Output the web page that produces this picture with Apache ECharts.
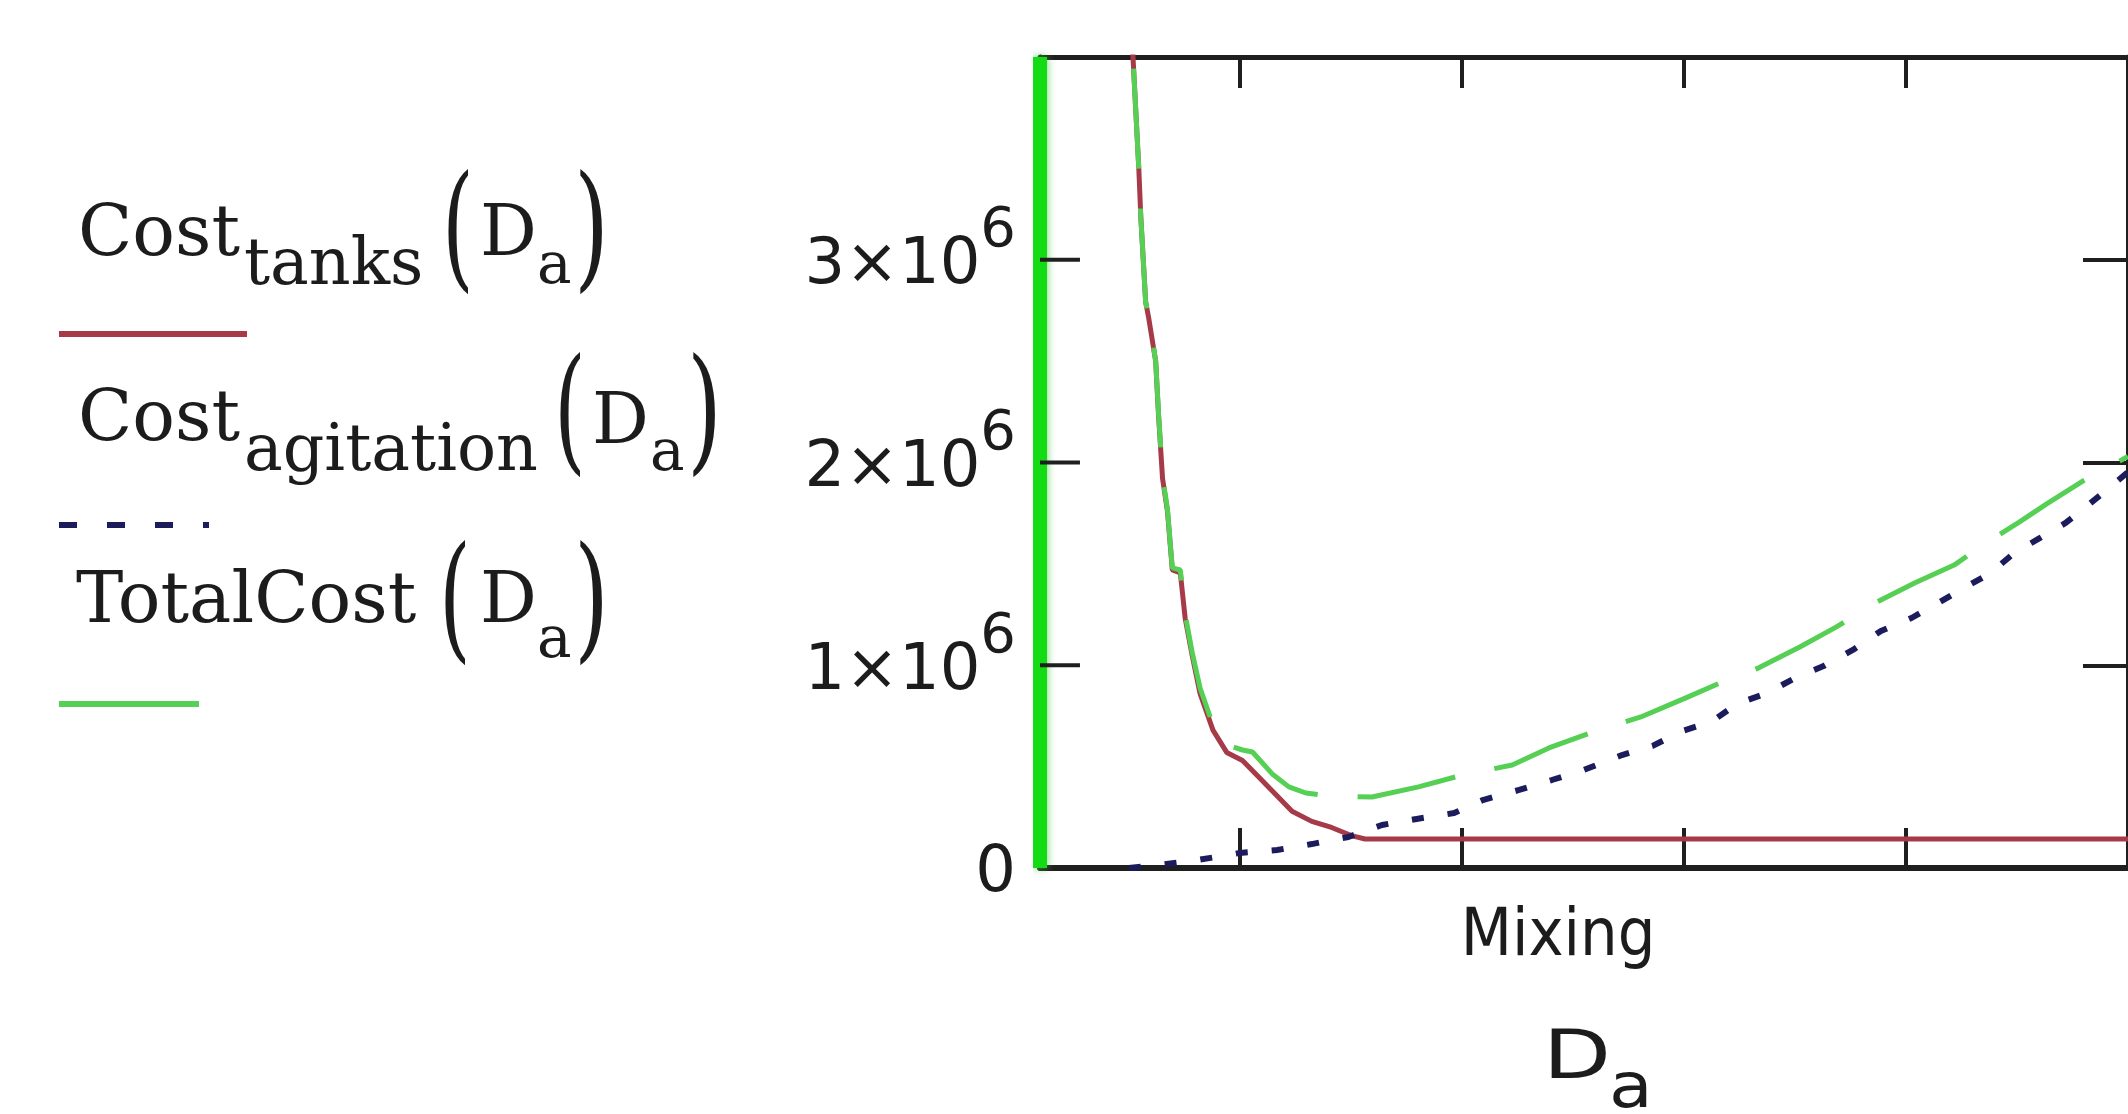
<!DOCTYPE html>
<html>
<head lang="en">
    <meta charset="UTF-8">
    <title>Mixing cost</title>
    <style>
        html, body {margin: 0; padding: 0; background: #fff;}
        #main {width: 2128px; height: 1114px;}
    </style>
</head>
<body>
<div id="main"></div>
<script src="https://cdn.jsdelivr.net/npm/echarts@6.0.0/dist/echarts.min.js"></script>
<script type="text/javascript">
    // values (D_a, cost)
    var tanksX = [0.514, 0.545, 0.554, 0.576, 0.590, 0.621, 0.634, 0.652, 0.674, 0.696, 0.732, 0.754, 0.785, 0.821, 0.879, 0.941, 1.012, 1.075, 1.164, 1.235, 1.324, 1.413, 1.502, 1.564, 5.0];
    var tanksY = [4.10e6, 3.45e6, 3.21e6, 2.79e6, 2.71e6, 2.50e6, 2.23e6, 1.92e6, 1.76e6, 1.47e6, 1.455e6, 1.23e6, 1.05e6, 0.86e6, 0.68e6, 0.57e6, 0.53e6, 0.46e6, 0.36e6, 0.28e6, 0.23e6, 0.20e6, 0.16e6, 0.143e6, 0.143e6];

    var agitationX = [0.50, 0.634, 0.808, 0.999, 1.168, 1.324, 1.489, 1.640, 1.796, 1.965, 2.094, 2.258, 2.405, 2.548, 2.721, 2.859, 2.993, 3.122, 3.238, 3.375, 3.500, 3.629, 3.767, 3.887, 4.025, 4.145, 4.261, 4.381, 4.488, 4.604, 4.719, 4.826, 4.920, 5.0];
    var agitationY = [0, 0.015e6, 0.039e6, 0.074e6, 0.089e6, 0.118e6, 0.153e6, 0.212e6, 0.242e6, 0.271e6, 0.335e6, 0.385e6, 0.434e6, 0.483e6, 0.557e6, 0.602e6, 0.676e6, 0.720e6, 0.809e6, 0.863e6, 0.937e6, 0.996e6, 1.080e6, 1.169e6, 1.233e6, 1.307e6, 1.381e6, 1.455e6, 1.554e6, 1.628e6, 1.702e6, 1.795e6, 1.879e6, 1.953e6];

    var totalX = [0.514, 0.545, 0.554, 0.576, 0.590, 0.621, 0.634, 0.652, 0.674, 0.696, 0.732, 0.754, 0.785, 0.821, 0.879, 0.941, 1.012, 1.057, 1.146, 1.221, 1.297, 1.400, 1.595, 1.805, 2.005, 2.227, 2.392, 2.592, 2.806, 3.006, 3.171, 3.335, 3.522, 3.687, 3.861, 4.039, 4.217, 4.346, 4.510, 4.639, 4.791, 4.951, 5.0];
    var totalY = [4.10e6, 3.45e6, 3.21e6, 2.79e6, 2.72e6, 2.50e6, 2.24e6, 1.93e6, 1.77e6, 1.48e6, 1.47e6, 1.25e6, 1.065e6, 0.888e6, 0.705e6, 0.607e6, 0.582e6, 0.572e6, 0.464e6, 0.400e6, 0.370e6, 0.355e6, 0.350e6, 0.400e6, 0.459e6, 0.508e6, 0.592e6, 0.671e6, 0.745e6, 0.838e6, 0.917e6, 0.986e6, 1.090e6, 1.189e6, 1.307e6, 1.406e6, 1.494e6, 1.593e6, 1.706e6, 1.800e6, 1.905e6, 2.0e6, 2.03e6];

    // the total trace also runs up the left edge
    var edgeX = [0.1, 0.1];
    var edgeY = [0, 4.0e6];

    var xTicks = [1, 2, 3, 4];
    var yInnerTicks = [1e6, 2e6, 3e6];

    var ink = '#1c1c1c';
    var axisColor = '#1f1f1f';
    var red = '#a63a48';
    var navy = '#1c1c5c';
    var green = '#55d055';

    function pairs(xs, ys) {
        var out = [];
        for (var i = 0; i < xs.length; i++) {
            out.push([xs[i], ys[i]]);
        }
        return out;
    }

    // short inward ticks on the left frame, in axis units, broken apart by '-'
    function leftTickData() {
        var out = [];
        for (var i = 0; i < yInnerTicks.length; i++) {
            out.push([0.1, yInnerTicks[i]], [0.28, yInnerTicks[i]], '-');
        }
        return out;
    }

    function txt(x, y, s, size, family, sx) {
        return {
            type: 'text', x: x, y: y, scaleX: sx || 1, silent: true,
            style: {text: s, fontSize: size, fontFamily: family, fill: ink, align: 'left', verticalAlign: 'middle'}
        };
    }

    function seg(x1, x2, y, color, dash) {
        return {
            type: 'line', silent: true,
            shape: {x1: x1, y1: y, x2: x2, y2: y},
            style: {stroke: color, lineWidth: 6, lineDash: dash || null}
        };
    }

    var serif = 'DejaVu Serif';
    var sans = 'DejaVu Sans';

    // legend on the left, text above each line sample
    var legend = [
        txt(78, 237, 'Cost', 71, serif),
        txt(244, 267, 'tanks', 65, serif),
        txt(442, 238, '(', 136, serif, 0.6),
        txt(480, 237, 'D', 71, serif),
        txt(537, 268, 'a', 58, serif),
        txt(574, 238, ')', 136, serif, 0.66),
        seg(59, 247, 334, red),

        txt(78, 422, 'Cost', 71, serif),
        txt(244, 453, 'agitation', 65, serif),
        txt(554, 421, '(', 136, serif, 0.6),
        txt(592, 425, 'D', 71, serif),
        txt(650, 455, 'a', 58, serif),
        txt(687, 421, ')', 136, serif, 0.66),
        seg(59, 209, 525, navy, [18, 30]),

        txt(76, 604, 'TotalCost', 71, serif),
        txt(439, 609, '(', 136, serif, 0.6),
        txt(480, 604, 'D', 71, serif),
        txt(537, 642, 'a', 58, serif),
        txt(574, 609, ')', 136, serif, 0.66),
        seg(59, 199, 704, green),

        // x axis titles
        {
            type: 'text', x: 1558, y: 938, silent: true,
            style: {text: 'Mixing', fontSize: 66, fontFamily: 'DejaVu Sans Condensed', fill: ink, align: 'center', verticalAlign: 'middle'}
        },
        txt(1543, 1060, 'D', 68, sans, 1.3),
        txt(1609, 1091, 'a', 62, sans, 1.15)
    ];

    function yLabel(v) {
        if (v === 0) return '{z|0}';
        if (v >= 4e6) return '';
        return '{m|' + (v / 1e6) + '×10}{s|6}';
    }

    var myChart = echarts.init(document.getElementById('main'));
    var option = {
        animation: false,
        backgroundColor: '#fff',
        grid: {left: 1040, top: 57, right: -10, bottom: 246},
        xAxis: [
            {
                type: 'value', min: 0.1, max: 5, position: 'bottom',
                axisLine: {show: true, onZero: false, lineStyle: {color: axisColor, width: 6}},
                axisTick: {show: true, inside: true, length: 40, customValues: xTicks, lineStyle: {color: axisColor, width: 4}},
                axisLabel: {show: false},
                splitLine: {show: false}
            },
            {
                type: 'value', min: 0.1, max: 5, position: 'top',
                axisLine: {show: true, onZero: false, lineStyle: {color: axisColor, width: 5}},
                axisTick: {show: true, inside: true, length: 31, customValues: xTicks, lineStyle: {color: axisColor, width: 4}},
                axisLabel: {show: false},
                splitLine: {show: false}
            }
        ],
        yAxis: [
            {
                type: 'value', min: 0, max: 4e6, interval: 1e6, position: 'left',
                axisLine: {show: true, onZero: false, lineStyle: {color: axisColor, width: 5}},
                axisTick: {show: false},
                axisLabel: {
                    margin: 24, formatter: yLabel,
                    rich: {
                        m: {fontFamily: sans, fontSize: 64, color: ink, verticalAlign: 'bottom', padding: [0, 0, 17, 0]},
                        s: {fontFamily: sans, fontSize: 56, color: ink, verticalAlign: 'bottom', padding: [0, 0, 56, 0]},
                        z: {fontFamily: sans, fontSize: 64, color: ink, padding: [12, 0, 0, 0]}
                    }
                },
                splitLine: {show: false}
            },
            {
                type: 'value', min: 0, max: 4e6, interval: 1e6, position: 'right',
                axisLine: {show: true, onZero: false, lineStyle: {color: axisColor, width: 5}},
                axisTick: {show: true, inside: true, length: 45, lineStyle: {color: axisColor, width: 4}},
                axisLabel: {show: false},
                splitLine: {show: false}
            }
        ],
        series: [
            {
                type: 'line', name: 'Cost tanks', data: pairs(tanksX, tanksY),
                symbol: 'none', silent: true, z: 2,
                lineStyle: {color: red, width: 5}
            },
            {
                type: 'line', name: 'Cost agitation', data: pairs(agitationX, agitationY),
                symbol: 'none', silent: true, z: 3,
                lineStyle: {color: navy, width: 6, type: [12, 24]}
            },
            {
                type: 'line', name: 'TotalCost', data: pairs(totalX, totalY),
                symbol: 'none', silent: true, z: 4,
                lineStyle: {color: green, width: 5, type: [100, 40], dashOffset: 108}
            },
            {
                type: 'line', name: 'TotalCost edge', data: pairs(edgeX, edgeY),
                symbol: 'none', silent: true, clip: false, z: 5,
                lineStyle: {color: '#14dc14', width: 14, shadowBlur: 8, shadowColor: 'rgba(70,200,70,0.8)'}
            },
            {
                type: 'line', name: 'frame ticks', data: leftTickData(),
                symbol: 'none', silent: true, clip: false, connectNulls: false, z: 10,
                lineStyle: {color: axisColor, width: 4}
            }
        ],
        graphic: legend
    };
    myChart.setOption(option);
</script>
</body>
</html>
